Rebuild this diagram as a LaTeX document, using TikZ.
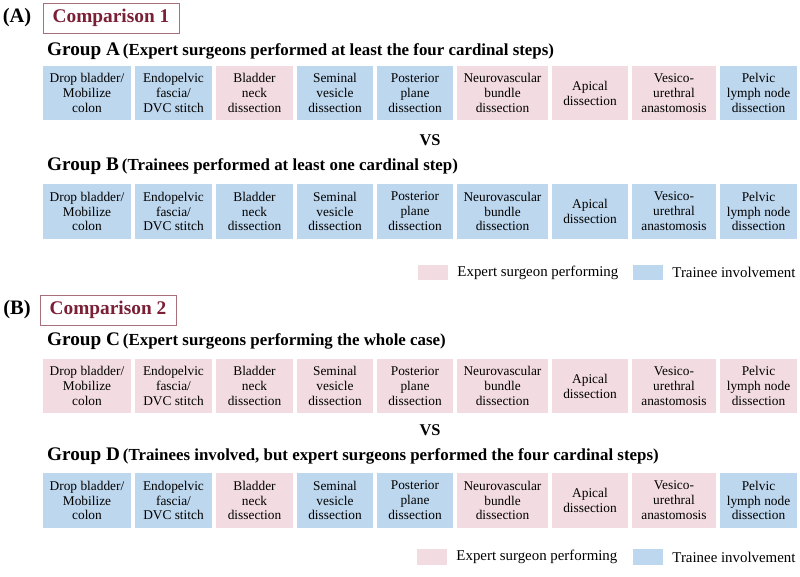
\documentclass[tikz,border=0pt]{standalone}
\usepackage{fontspec}
\setmainfont{Liberation Serif}
\usetikzlibrary{positioning}
\definecolor{expert}{HTML}{F2DCE2}
\definecolor{trainee}{HTML}{BDD7EE}
\definecolor{cmptext}{HTML}{7A1F35}
\definecolor{cmpline}{HTML}{A8707B}
\begin{document}
\begin{tikzpicture}[x=0.03cm, y=-0.03cm,
  stage/.style={inner sep=0pt, minimum height=1.63cm, align=center,
    font=\fontsize{11.4}{12.7}\selectfont},
  cmpbox/.style={draw=cmpline, line width=0.8pt, text=cmptext, inner sep=0pt,
    minimum width=4.08cm, minimum height=0.9cm, font=\fontsize{16.5}{18}\selectfont\bfseries},
  grp/.style={anchor=west, inner sep=0pt, font=\bfseries},
  swatch/.style={inner sep=0pt, minimum width=0.9cm, minimum height=0.46cm},
  legtext/.style={inner sep=0pt, font=\fontsize{12.7}{14}\selectfont}]
  \useasboundingbox (0,0) rectangle (800,576);
  % (A) Comparison 1
  \node[font=\fontsize{17.5}{19}\selectfont\bfseries] (labA) at (17,18) {(A)};
  \node[cmpbox] (cmp1) at (111,18) {Comparison 1};
  \node[grp] (grpA) at (47,51) {{\fontsize{16.4}{18}\selectfont Group A} {\fontsize{14.4}{16}\selectfont (Expert surgeons performed at least the four cardinal steps)}};
  \node[font=\fontsize{14}{16}\selectfont\bfseries] (vs1) at (430,140) {VS};
  \node[grp] (grpB) at (47,166) {{\fontsize{16.4}{18}\selectfont Group B} {\fontsize{14.4}{16}\selectfont (Trainees performed at least one cardinal step)}};
  % (B) Comparison 2
  \node[font=\fontsize{17.5}{19}\selectfont\bfseries] (labB) at (17,310) {(B)};
  \node[cmpbox] (cmp2) at (108,310) {Comparison 2};
  \node[grp] (grpC) at (47,341) {{\fontsize{16.4}{18}\selectfont Group C} {\fontsize{14.4}{16}\selectfont (Expert surgeons performing the whole case)}};
  \node[font=\fontsize{14}{16}\selectfont\bfseries] (vs2) at (430,430) {VS};
  \node[grp] (grpD) at (47,456) {{\fontsize{16.4}{18}\selectfont Group D} {\fontsize{14.4}{16}\selectfont (Trainees involved, but expert surgeons performed the four cardinal steps)}};
  % steps: column centre / width / text / colours of rows A B C D
  \foreach \i/\xc/\w/\lab/\ca/\cb/\cc/\cd in {
      1/87/88/{Drop bladder/\\Mobilize\\colon}/trainee/trainee/expert/trainee,
      2/173.5/77/{Endopelvic\\fascia/\\DVC stitch}/trainee/trainee/expert/trainee,
      3/254.5/77/{Bladder\\neck\\dissection}/expert/trainee/expert/expert,
      4/335/76/{Seminal\\vesicle\\dissection}/trainee/trainee/expert/trainee,
      5/415/76/{Posterior\\plane\\dissection}/trainee/trainee/expert/trainee,
      6/502.5/91/{Neurovascular\\bundle\\dissection}/expert/trainee/expert/expert,
      7/590/76/{Apical\\dissection}/expert/trainee/expert/expert,
      8/674/84/{Vesico-\\urethral\\anastomosis}/expert/trainee/expert/expert,
      9/758.5/77/{Pelvic\\lymph node\\dissection}/trainee/trainee/expert/trainee}{
    \node[stage, fill=\ca, minimum width=\w*0.03cm] (a\i) at (\xc,93) {\lab};
    \node[stage, fill=\cb, minimum width=\w*0.03cm] (b\i) at (\xc,211.5) {\lab};
    \node[stage, fill=\cc, minimum width=\w*0.03cm] (c\i) at (\xc,386) {\lab};
    \node[stage, fill=\cd, minimum width=\w*0.03cm] (d\i) at (\xc,500.5) {\lab};
  }
  % legends
  \node[swatch, fill=expert] (legA1) at (433,272.5) {};
  \node[legtext, right=0.27cm of legA1] (legA1t) {Expert surgeon performing};
  \node[swatch, fill=trainee] (legA2) at (648,272.5) {};
  \node[legtext, right=0.27cm of legA2] (legA2t) {Trainee involvement};
  \node[swatch, fill=expert] (legB1) at (432,557) {};
  \node[legtext, right=0.27cm of legB1] (legB1t) {Expert surgeon performing};
  \node[swatch, fill=trainee] (legB2) at (648,557) {};
  \node[legtext, right=0.27cm of legB2] (legB2t) {Trainee involvement};
\end{tikzpicture}
\end{document}
